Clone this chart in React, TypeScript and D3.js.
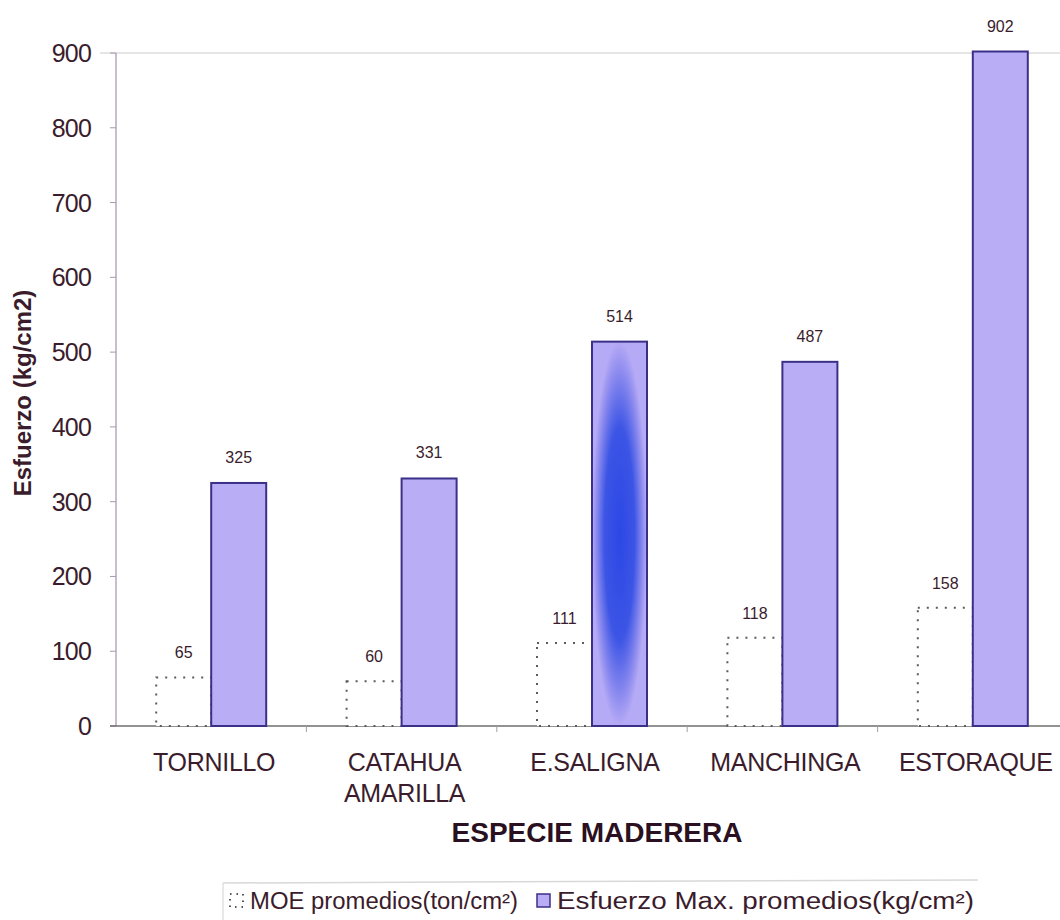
import React from "react";
import * as d3 from "d3";

const categories = ["TORNILLO", "CATAHUA\nAMARILLA", "E.SALIGNA", "MANCHINGA", "ESTORAQUE"];
const moeValues = [65, 60, 111, 118, 158];
const esfuerzoValues = [325, 331, 514, 487, 902];
const yTicks = [0, 100, 200, 300, 400, 500, 600, 700, 800, 900];
const seriesNames = ["MOE promedios(ton/cm²)", "Esfuerzo Max. promedios(kg/cm²)"];
const yTitle = "Esfuerzo (kg/cm2)";
const xTitle = "ESPECIE MADERERA";

const W = 1060;
const H = 920;
const TEXT = "#3a1c2c";
const FONT = "'Liberation Sans', Arial, Helvetica, sans-serif";
const BAR_FILL = "#b9adf6";
const BAR_STROKE = "#3b3088";

export default function App() {
  const x = d3.scaleBand<string>().domain(categories).range([116, 1068]).padding(0);
  const y = d3.scaleLinear().domain([0, 900]).range([726, 53]);
  const barW = 55;
  const x0 = 116;

  return (
    <svg width={W} height={H} style={{ position: "absolute", left: 0, top: 0, background: "#fff" }} fontFamily={FONT}>
      <defs>
        <radialGradient id="salignaGrad" cx="0.5" cy="0.5" r="0.5">
          <stop offset="0" stopColor="#2c47e6" />
          <stop offset="0.55" stopColor="#3c55e5" />
          <stop offset="0.85" stopColor="#8e8cef" />
          <stop offset="1" stopColor="#b5aaf5" />
        </radialGradient>
      </defs>
      <rect x={0} y={0} width={W} height={H} fill="#fff" />

      {/* top reference line */}
      <line x1={100} x2={W} y1={y(900)} y2={y(900)} stroke="#dcdcdc" strokeWidth={1.5} />

      {/* y axis */}
      <line x1={x0} x2={x0} y1={y(900)} y2={y(0)} stroke="#b7a6c2" strokeWidth={1.5} />
      {yTicks.map((t) => (
        <g key={t}>
          <line x1={x0 - 6} x2={x0} y1={y(t)} y2={y(t)} stroke="#a797b2" strokeWidth={1} />
          <text x={91} y={y(t)} dy="0.36em" textAnchor="end" fontSize={25} fill={TEXT} letterSpacing={-0.8}>
            {t}
          </text>
        </g>
      ))}

      {/* x axis */}
      <line x1={x0 - 6} x2={W} y1={y(0)} y2={y(0)} stroke="#6e6e6e" strokeWidth={1.5} />
      {categories.map((c, i) => (
        <line key={"xt" + i} x1={(x(c) as number) + x.bandwidth()} x2={(x(c) as number) + x.bandwidth()} y1={y(0)} y2={y(0) + 6} stroke="#a0a0a0" strokeWidth={1} />
      ))}

      {/* bars */}
      {categories.map((c, i) => {
        const cx = (x(c) as number) + x.bandwidth() / 2;
        const moeTop = y(moeValues[i]);
        const esTop = y(esfuerzoValues[i]);
        return (
          <g key={"b" + i}>
            <rect
              x={cx - barW}
              y={moeTop}
              width={barW}
              height={y(0) - moeTop}
              fill="#fff"
              stroke="#5a5a5a"
              strokeWidth={2}
              strokeDasharray="2,7"
            />
            <rect
              x={cx}
              y={esTop}
              width={barW}
              height={y(0) - esTop}
              fill={i === 2 ? "url(#salignaGrad)" : BAR_FILL}
              stroke={BAR_STROKE}
              strokeWidth={2}
            />
            <text x={cx - barW / 2} y={moeTop - 19} textAnchor="middle" fontSize={16} fill={TEXT}>
              {moeValues[i]}
            </text>
            <text x={cx + barW / 2} y={esTop - 20} textAnchor="middle" fontSize={16} fill={TEXT}>
              {esfuerzoValues[i]}
            </text>
          </g>
        );
      })}

      {/* category labels */}
      {categories.map((c, i) => {
        const cx = (x(c) as number) + x.bandwidth() / 2 + 3;
        return (
          <text key={"cl" + i} x={cx} y={771} textAnchor="middle" fontSize={25} fill={TEXT} letterSpacing={-0.3}>
            {c.split("\n").map((line, j) => (
              <tspan key={j} x={cx} y={771 + j * 31}>
                {line}
              </tspan>
            ))}
          </text>
        );
      })}

      {/* axis titles */}
      <text
        transform={`translate(31, ${393}) rotate(-90)`}
        textAnchor="middle"
        fontSize={24}
        fontWeight="bold"
        fill={TEXT}
      >
        {yTitle}
      </text>
      <text x={597} y={842} textAnchor="middle" fontSize={28} fontWeight="bold" fill="#2a1020">
        {xTitle}
      </text>

      {/* legend */}
      <g>
        <line x1={223} x2={978} y1={883} y2={880} stroke="#d8d8d8" strokeWidth={1.5} />
        <line x1={223} x2={223} y1={883} y2={920} stroke="#e0e0e0" strokeWidth={1.5} />
        <rect x={230} y={894} width={13} height={13} fill="#fff" stroke="#555" strokeWidth={2} strokeDasharray="1.5,5" />
        <text x={250} y={909} fontSize={23} fill={TEXT} textLength={268} lengthAdjust="spacingAndGlyphs">
          {seriesNames[0]}
        </text>
        <rect x={537} y={894} width={13} height={13} fill={BAR_FILL} stroke={BAR_STROKE} strokeWidth={1.5} />
        <text x={557} y={909} fontSize={23} fill={TEXT} textLength={417} lengthAdjust="spacingAndGlyphs">
          {seriesNames[1]}
        </text>
      </g>
    </svg>
  );
}
